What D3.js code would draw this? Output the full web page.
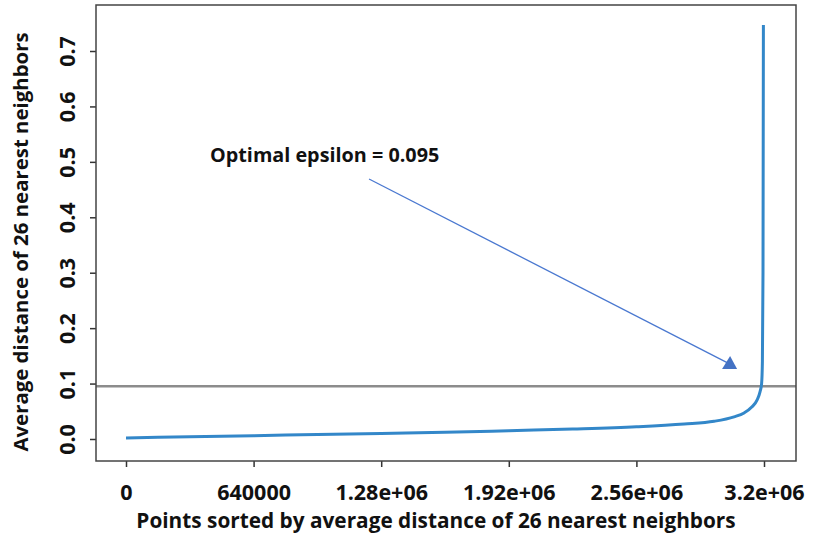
<!DOCTYPE html>
<html lang="en">
<head>
<meta charset="utf-8">
<script src="https://d3js.org/d3.v7.min.js"></script>
<style type="text/css">
body {
	margin: 0;
	background: white;
	font-family: "Open Sans", sans-serif;
}
</style>
</head>
<body>
<script type="text/javascript">

// sorted k-distance curve
var pointIndex = [0, 320000, 640000, 960000, 1280000, 1600000, 1920000, 2240000, 2560000, 2800000,
	2950000, 3050000, 3100000, 3140000, 3165000, 3180000, 3188000, 3192000, 3195000, 3197000];
var kDistance = [0.002, 0.004, 0.006, 0.008, 0.010, 0.012, 0.015, 0.018, 0.022, 0.027,
	0.032, 0.040, 0.047, 0.058, 0.070, 0.085, 0.100, 0.140, 0.300, 0.747];

var xTicks = [0, 640000, 1280000, 1920000, 2560000, 3200000];
var xTickLabels = ["0", "640000", "1.28e+06", "1.92e+06", "2.56e+06", "3.2e+06"];
var yTicks = [0, 0.1, 0.2, 0.3, 0.4, 0.5, 0.6, 0.7];

var epsilon = 0.095;
var arrowFrom = [1219000, 0.469];
var arrowTo = [3060000, 0.128];
var annotText = "Optimal epsilon = 0.095";

var width = 817;
var height = 539;
var margin = {left: 96, top: 5, right: 21, bottom: 78};
var fontFam = "'Open Sans', sans-serif";

var x = d3.scaleLinear()
	.domain([-150470, 3360500])
	.range([margin.left, width - margin.right]);

var y = d3.scaleLinear()
	.domain([-0.0397, 0.783])
	.range([height - margin.bottom, margin.top]);

var svg = d3.select("body")
	.append("svg")
	.attr("width", width)
	.attr("height", height);

// x axis
var xAxis = svg.append("g")
	.attr("transform", "translate(0," + (height - margin.bottom) + ")")
	.call(d3.axisBottom(x)
		.tickValues(xTicks)
		.tickFormat(function(d, i) { return xTickLabels[i]; })
		.tickSize(6)
		.tickPadding(18));
xAxis.select(".domain").remove();
xAxis.selectAll("line").attr("stroke", "#333").attr("stroke-width", 1.5);
xAxis.selectAll("text")
	.attr("fill", "#111")
	.style("font-family", fontFam)
	.style("font-weight", "bold")
	.style("font-size", "21.5px");

// y axis, rotated labels
var yAxis = svg.append("g")
	.attr("transform", "translate(" + margin.left + ",0)")
	.call(d3.axisLeft(y)
		.tickValues(yTicks)
		.tickFormat(d3.format(".1f"))
		.tickSize(6));
yAxis.select(".domain").remove();
yAxis.selectAll("line").attr("stroke", "#333").attr("stroke-width", 1.5);
yAxis.selectAll("text")
	.attr("x", 0)
	.attr("dy", 0)
	.attr("text-anchor", "middle")
	.attr("transform", "translate(-29,0) rotate(-90)")
	.attr("y", 8)
	.attr("fill", "#111")
	.style("font-family", fontFam)
	.style("font-weight", "bold")
	.style("font-size", "21.5px");

// epsilon line
svg.append("line")
	.attr("x1", margin.left)
	.attr("x2", width - margin.right)
	.attr("y1", y(epsilon))
	.attr("y2", y(epsilon))
	.attr("stroke", "#8c8c8c")
	.attr("stroke-width", 2.5);

// curve
var line = d3.line()
	.x(function(d, i) { return x(d); })
	.y(function(d, i) { return y(kDistance[i]); })
	.curve(d3.curveMonotoneX);

svg.append("path")
	.datum(pointIndex)
	.attr("d", line)
	.attr("fill", "none")
	.attr("stroke", "#3387c9")
	.attr("stroke-width", 3);

// frame
svg.append("rect")
	.attr("x", margin.left)
	.attr("y", margin.top)
	.attr("width", width - margin.left - margin.right)
	.attr("height", height - margin.top - margin.bottom)
	.attr("fill", "none")
	.attr("stroke", "#444")
	.attr("stroke-width", 1.5);

// annotation arrow
var x1 = x(arrowFrom[0]), y1 = y(arrowFrom[1]);
var x2 = x(arrowTo[0]), y2 = y(arrowTo[1]);
svg.append("line")
	.attr("x1", x1).attr("y1", y1)
	.attr("x2", x2 - 8).attr("y2", y2 - 5)
	.attr("stroke", "#4a78d0")
	.attr("stroke-width", 1.3);

svg.append("path")
	.attr("d", "M" + (x2 - 6) + "," + (y2 - 12) + "L" + (x2 - 14) + "," + (y2 + 1) + "L" + (x2 + 1) + "," + (y2 + 1) + "Z")
	.attr("fill", "#4472c4");

svg.append("text")
	.attr("x", 210)
	.attr("y", 162)
	.attr("fill", "#111")
	.style("font-family", fontFam)
	.style("font-weight", "bold")
	.style("font-size", "19.8px")
	.text(annotText);

// axis titles
svg.append("text")
	.attr("x", 436)
	.attr("y", 528)
	.attr("text-anchor", "middle")
	.attr("fill", "#111")
	.style("font-weight", "bold")
	.style("font-size", "20.8px")
	.text("Points sorted by average distance of 26 nearest neighbors");

svg.append("text")
	.attr("transform", "translate(28,242) rotate(-90)")
	.attr("text-anchor", "middle")
	.attr("fill", "#111")
	.style("font-weight", "bold")
	.style("font-size", "20.4px")
	.text("Average distance of 26 nearest neighbors");

</script>
</body>
</html>
